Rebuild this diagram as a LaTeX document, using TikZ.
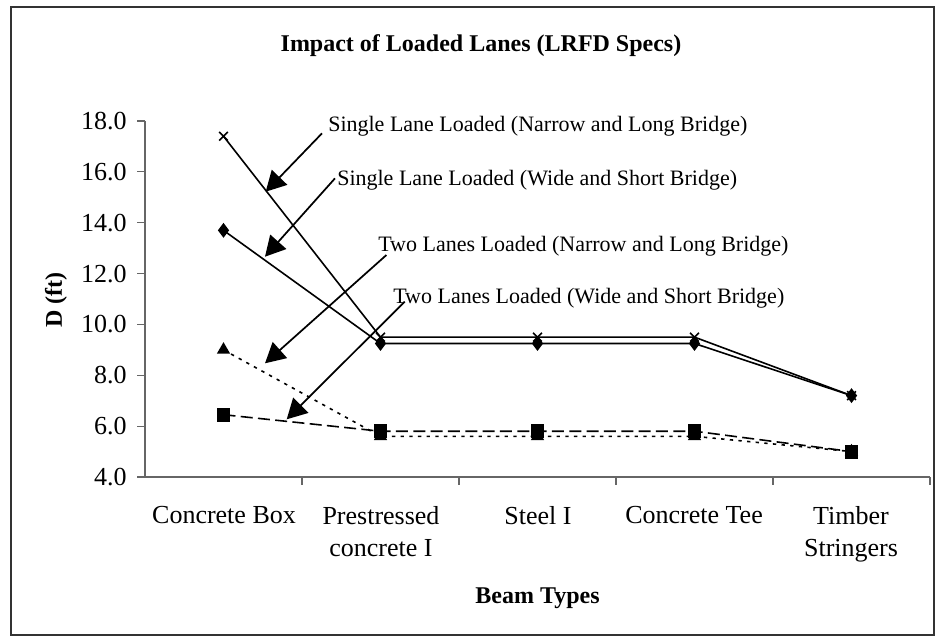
\documentclass[tikz,border=0pt]{standalone}
\usepackage{fontspec}
\setmainfont{Liberation Serif}
\usetikzlibrary{arrows.meta,plotmarks}
\tikzset{ticklbl/.style={inner sep=0pt,font=\fontsize{19.5}{24}\selectfont},
  callout/.style={inner sep=0pt,font=\fontsize{16.5}{20}\selectfont},
  series/.style={line width=1.2pt,mark size=4.6pt,mark options={solid}},
  pointer/.style={line width=1.3pt,-{Triangle[length=15pt,width=16pt]}}}

\begin{document}
\begin{tikzpicture}[x=0.75pt,y=-0.75pt]
        \useasboundingbox (0,0) rectangle (937,638);
        \draw[black!80,line width=1.1pt] (11,7) rectangle (934,635);
        % title and axis names
        \node[inner sep=0pt,anchor=base,font=\fontsize{18}{22}\selectfont\bfseries] (title) at (481,52) {Impact of Loaded Lanes (LRFD Specs)};
        \node[inner sep=0pt,anchor=base,font=\fontsize{18}{22}\selectfont\bfseries] (xname) at (537.5,603) {Beam Types};
        \node[inner sep=0pt,rotate=90,font=\fontsize{18}{22}\selectfont\bfseries] (yname) at (56,300) {D (ft)};
        % axes
        \draw[black!60,line width=0.9pt] (145,121) -- (145,477) -- (930,477);
        \foreach \v [count=\i from 0] in {4.0,6.0,8.0,10.0,12.0,14.0,16.0,18.0} {
            \draw[black!60,line width=0.9pt] (137,477-50.86*\i) -- (145,477-50.86*\i);
            \node[ticklbl,anchor=east] (ylbl\i) at (127,477-50.86*\i) {\v};
        }
        \foreach \i in {1,...,5}
            \draw[black!60,line width=0.9pt] (145+157*\i,477) -- (145+157*\i,485);
        \node[ticklbl,anchor=north,align=center] (cat1) at (224,506) {Concrete Box};
        \node[ticklbl,anchor=north,align=center] (cat2) at (381,506) {Prestressed\\concrete I};
        \node[ticklbl,anchor=north,align=center] (cat3) at (538,506) {Steel I};
        \node[ticklbl,anchor=north,align=center] (cat4) at (694,506) {Concrete Tee};
        \node[ticklbl,anchor=north,align=center] (cat5) at (851,506) {Timber\\Stringers};
        % data, one unit per beam type and per foot
        \begin{scope}[shift={(66.5,578.7)},x=117.75pt,y=19.07pt]
            \draw[series,mark=x] plot coordinates {(1,17.4) (2,9.5) (3,9.5) (4,9.5) (5,7.2)};
            \draw[series,mark=diamond*] plot coordinates {(1,13.7) (2,9.25) (3,9.25) (4,9.25) (5,7.2)};
            \draw[series,mark=triangle*,dash pattern=on 2.5pt off 4pt] plot coordinates {(1,9.0) (2,5.6) (3,5.6) (4,5.6) (5,5.0)};
            \draw[series,mark=square*,dash pattern=on 9pt off 4pt] plot coordinates {(1,6.45) (2,5.8) (3,5.8) (4,5.8) (5,5.0)};
        \end{scope}
        % callouts
        \node[callout,anchor=base west] (slnl) at (328,132) {Single Lane Loaded (Narrow and Long Bridge)};
        \node[callout,anchor=base west] (slws) at (337,185) {Single Lane Loaded (Wide and Short Bridge)};
        \node[callout,anchor=base west] (tlnl) at (378,251.7) {Two Lanes Loaded (Narrow and Long Bridge)};
        \node[callout,anchor=base west] (tlws) at (393,303.3) {Two Lanes Loaded (Wide and Short Bridge)};
        \coordinate (tipA) at (265.7,191.7);
        \coordinate (tipB) at (265,256.7);
        \coordinate (tipC) at (265,363.3);
        \coordinate (tipD) at (286.7,419.3);
        \draw[pointer] ([xshift=-4.5pt,yshift=-1pt]slnl.base west) -- (tipA);
        \draw[pointer] ([xshift=-1.5pt,yshift=5pt]slws.base west) -- (tipB);
        \draw[pointer] ([xshift=6.3pt,yshift=-2.5pt]tlnl.base west) -- (tipC);
        \draw[pointer] ([xshift=8.8pt,yshift=1.2pt]tlws.base west) -- (tipD);
\end{tikzpicture}
\end{document}
